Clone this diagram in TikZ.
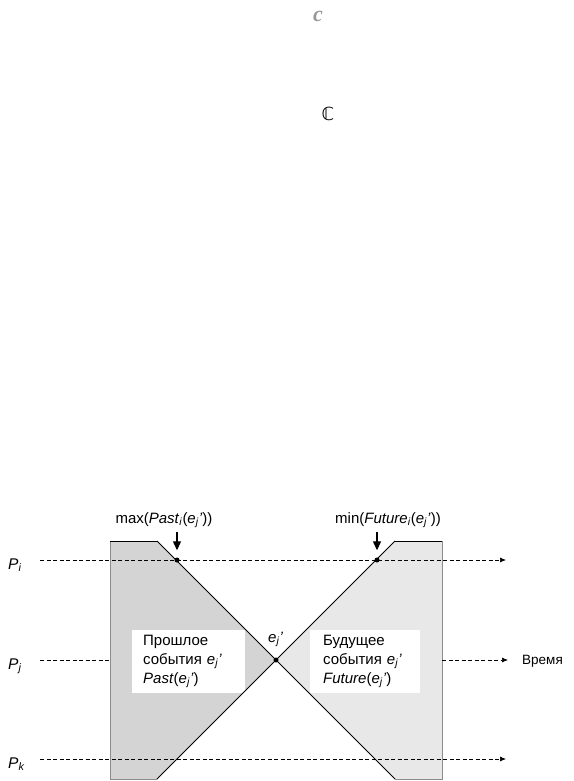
\documentclass[tikz,border=0pt]{standalone}
\usepackage{fontspec}
\setmainfont{Liberation Sans}
\newfontfamily\serifc{Liberation Serif}
\newfontfamily\djv{DejaVu Sans}
\usetikzlibrary{arrows.meta}
\newcommand\sbi[1]{\textsubscript{\textit{#1}}}
\newcommand\ejp{\textit{e}\sbi{j}\textit{'}}
\begin{document}
\begin{tikzpicture}[x=1pt,y=-1pt,
  proc/.style={dash pattern=on 4pt off 2.5pt, line width=0.7pt},
  procarrow/.style={proc, -{Latex[length=6pt,width=5pt]}},
  lbl/.style={font=\fontsize{15}{19}\selectfont, inner sep=0pt},
  plbl/.style={font=\fontsize{15.5}{19}\selectfont, inner sep=0pt, anchor=base west},
  cone/.style={line width=0.8pt, black},
  rim/.style={line width=0.5pt, black!45},
  event/.style={circle, fill=black, inner sep=0pt, minimum size=5pt},
  pointer/.style={line width=1.2pt, -{Triangle[length=9pt,width=8pt]}}]
\useasboundingbox (0,0) rectangle (573,781);

% stray glyphs at the top
\node[inner sep=0pt, text=black!40, font=\fontsize{22}{22}\selectfont\serifc\bfseries\itshape] (cgl) at (318,16) {c};
\node[inner sep=0pt, font=\fontsize{18}{18}\selectfont\djv] (Cgl) at (328,114) {ℂ};

% cone coordinates
\coordinate (ctr) at (276,660);
\coordinate (lt) at (157,541);
\coordinate (lb) at (157,779);
\coordinate (ltl) at (110,541);
\coordinate (lbl) at (110,779);
\coordinate (rt) at (395,541);
\coordinate (rb) at (395,779);
\coordinate (rtr) at (442,541);
\coordinate (rbr) at (442,779);

% past region
\fill[black!17] (ltl) -- (lt) -- (ctr) -- (lb) -- (lbl) -- cycle;
% future region
\fill[black!9] (rtr) -- (rt) -- (ctr) -- (rb) -- (rbr) -- cycle;

% white text boxes
\fill[white] (132,630) rectangle (245,693);
\fill[white] (310,630) rectangle (420,693);

% region outlines
\draw[rim] (lt) -- (ltl) -- (lbl) -- (lb);
\draw[rim] (rt) -- (rtr) -- (rbr) -- (rb);
\draw[cone] (ltl) -- (lt);
\draw[cone] (rtr) -- (rt);
\draw[cone] (lt) -- (ctr) -- (rb);
\draw[cone] (rt) -- (ctr) -- (lb);

% process lines
\coordinate (pis) at (40,560);
\coordinate (pie) at (506,560);
\coordinate (pjs) at (40,660);
\coordinate (pjm) at (110,660);
\coordinate (pjr) at (442,660);
\coordinate (pje) at (508,660);
\coordinate (pks) at (40,759);
\coordinate (pke) at (506,759);
\draw[procarrow] (pis) -- (pie);
\draw[proc] (pjs) -- (pjm);
\draw[procarrow] (pjr) -- (pje);
\draw[procarrow] (pks) -- (pke);

\node[plbl] (Pi) at (8,569) {\textit{P}\sbi{i}};
\node[plbl] (Pj) at (8,669) {\textit{P}\sbi{j}};
\node[plbl] (Pk) at (8,768) {\textit{P}\sbi{k}};
\node[inner sep=0pt, anchor=base west, font=\fontsize{13.5}{15}\selectfont] (time) at (522,664) {Время};

% events
\node[event] (a) at (177,560) {};
\node[event] (b) at (377,560) {};
\node[event] (ej) at (ctr) {};
\node[lbl, anchor=base west] (ejl) at (268,642) {\ejp};

% top labels and pointers
\node[lbl, anchor=base] (maxl) at (164,523) {max(\textit{Past}\sbi{i}(\ejp))};
\node[lbl, anchor=base] (minl) at (388,523) {min(\textit{Future}\sbi{i}(\ejp))};
\coordinate (ta) at (177,532);
\coordinate (tb) at (377,532);
\draw[pointer] (ta) -- ([yshift=7pt]a.north);
\draw[pointer] (tb) -- ([yshift=7pt]b.north);

% region texts
\node[lbl, anchor=base west] (past1) at (143,645) {Прошлое};
\node[lbl, anchor=base west] (past2) at (143,664) {события\hspace{5pt}\ejp};
\node[lbl, anchor=base west] (past3) at (143,683) {\textit{Past}(\ejp)};
\node[lbl, anchor=base west] (fut1) at (323,645) {Будущее};
\node[lbl, anchor=base west] (fut2) at (323,664) {события\hspace{5pt}\ejp};
\node[lbl, anchor=base west] (fut3) at (323,683) {\textit{Future}(\ejp)};
\end{tikzpicture}
\end{document}
